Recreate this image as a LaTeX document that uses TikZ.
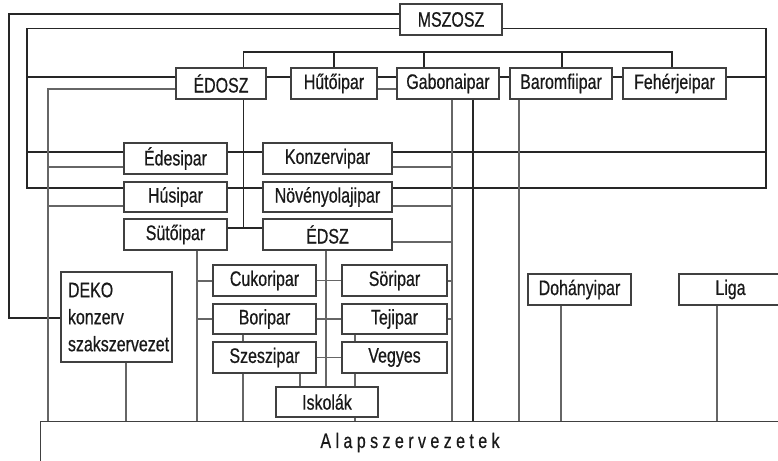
\documentclass[tikz,border=0pt]{standalone}
\usepackage{fontspec}
\setmainfont[FakeStretch=0.76, FakeBold=0.6]{Liberation Sans}
\usetikzlibrary{shapes,arrows}
\tikzstyle{unit} = [rectangle, draw=black!75, line width=1.1pt, inner sep=0pt,
    minimum width=103pt, minimum height=31pt, text=black!90,
    font=\fontsize{21}{27}\selectfont]
\tikzstyle{wire} = [draw, black!85, line width=1.2pt]
\tikzstyle{feed} = [draw, black!60, line width=1.2pt]

\begin{document}
\begin{tikzpicture}[x=1pt, y=-1pt]
    \useasboundingbox (0,0) rectangle (778,460);

    % Place nodes
    \node [unit, minimum width=102pt] (mszosz) at (451,19.5) {MSZOSZ};
    \node [unit, minimum width=90pt] (edosz) at (221,83.5) {ÉDOSZ};
    \node [unit, minimum width=86pt] (huto) at (334,83.5) {Hűtőipar};
    \node [unit, minimum width=102pt] (gabona) at (448,83.5) {Gabonaipar};
    \node [unit, minimum width=102pt] (baromfi) at (561,83.5) {Baromfiipar};
    \node [unit] (feherje) at (674.5,83.5) {Fehérjeipar};
    \node [unit] (edes) at (175.5,158.5) {Édesipar};
    \node [unit, minimum width=129pt] (konzerv) at (327.5,158.5) {Konzervipar};
    \node [unit, minimum height=30pt] (hus) at (175.5,197) {Húsipar};
    \node [unit, minimum width=129pt, minimum height=30pt] (olaj) at (327.5,197) {Növényolajipar};
    \node [unit] (suto) at (175.5,234.5) {Sütőipar};
    \node [unit, minimum width=129pt] (edsz) at (327.5,234.5) {ÉDSZ};
    \node [unit] (cukor) at (264.5,280.5) {Cukoripar};
    \node [unit, minimum height=30pt] (bor) at (264.5,319) {Boripar};
    \node [unit] (szesz) at (264.5,357.5) {Szeszipar};
    \node [unit, minimum width=105pt] (sor) at (394.5,280.5) {Söripar};
    \node [unit, minimum width=105pt, minimum height=30pt] (tej) at (394.5,319) {Tejipar};
    \node [unit, minimum width=105pt] (vegyes) at (394.5,357.5) {Vegyes};
    \node [unit, minimum width=102pt, minimum height=30pt] (iskola) at (327,402) {Iskolák};
    \node [unit, minimum width=111pt, minimum height=90pt, text width=97pt, align=left]
        (deko) at (116.5,317) {DEKO\\konzerv\\szakszervezet};
    \node [unit] (dohany) at (579.5,289.5) {Dohányipar};
    \node [unit] (liga) at (730.5,289.5) {Liga};
    \node [unit, anchor=north west, minimum width=739pt, minimum height=42pt]
        (alap) at (40,421) {A l a p s z e r v e z e t e k};

    % Draw edges: MSZOSZ rails
    \path [wire] (mszosz.west |- 0,14) -| (9,318) -- (deko.west |- 0,318);
    \path [wire] (mszosz.west |- 0,28.5) -| (27,188) -- (hus.west |- 0,188);
    \path [wire] (mszosz.west |- 0,28.5) -| (27,152) -- (edes.west |- 0,152);
    \path [wire] (mszosz.west |- 0,28.5) -| (27,77) -- (edosz.west |- 0,77);
    \path [wire] (mszosz.east |- 0,28.5) -| (766,188) -- (olaj.east |- 0,188);
    \path [wire] (mszosz.east |- 0,28.5) -| (766,152) -- (konzerv.east |- 0,152);
    \path [wire] (mszosz.east |- 0,28.5) -| (766,77) -- (feherje.east |- 0,77);
    \foreach \a/\b in {edosz/huto, huto/gabona, gabona/baromfi, baromfi/feherje}
        \path [wire] (\a.east |- 0,77) -- (\b.west |- 0,77);
    \path [wire] (edes.east |- 0,152) -- (konzerv.west |- 0,152);
    \path [wire] (hus.east |- 0,188) -- (olaj.west |- 0,188);

    % ÉDOSZ
    \path [wire] (edosz.north -| 243.5,0) -- (243.5,52) -| (feherje.north -| 672,0);
    \foreach \n/\x in {huto/334, gabona/424, baromfi/562}
        \path [wire] (\n.north -| \x,0) -- (\x,52);
    \path [wire] (edosz.south -| 243.5,0) -- (243.5,228);
    \path [wire] (suto.east |- 0,228) -- (edsz.west |- 0,228);
    \path [feed] (edosz.west |- 0,89) -| (alap.north -| 48,0);
    \path [feed] (edosz.west |- 0,89) -| (48,167) -- (edes.west |- 0,167);
    \path [feed] (edosz.west |- 0,89) -| (48,206) -- (hus.west |- 0,206);
    \path [feed] (huto.east |- 0,89) -- (gabona.west |- 0,89);

    % Gabonaipar, Baromfiipar
    \path [feed] (gabona.south -| 452,0) -- (alap.north -| 452,0);
    \foreach \n/\y in {konzerv/167, olaj/206, edsz/242, sor/281, tej/319}
        \path [feed] (\n.east |- 0,\y) -| (gabona.south -| 452,0);
    \path [wire] (gabona.south -| 473,0) -- (alap.north -| 473,0);
    \path [feed] (baromfi.south -| 519,0) -- (alap.north -| 519,0);

    % lower units
    \path [feed] (suto.south -| 197,0) -- (alap.north -| 197,0);
    \path [feed] (suto.south -| 197,0) |- (cukor.west |- 0,281);
    \path [feed] (suto.south -| 197,0) |- (bor.west |- 0,319);
    \path [feed] (deko.south -| 126,0) -- (alap.north -| 126,0);
    \path [feed] (edsz.south -| 326,0) -- (iskola.north -| 326,0);
    \path [feed] (cukor.east) -- (sor.west);
    \path [feed] (bor.east) -- (tej.west);
    \path [feed] (szesz.east) -- (vegyes.west);
    \path [feed] (bor.south -| 243,0) -- (szesz.north -| 243,0);
    \path [feed] (szesz.south -| 243,0) -- (alap.north -| 243,0);
    \path [feed] (szesz.south -| 300,0) -- (iskola.north -| 300,0);
    \path [feed] (tej.south -| 355,0) -- (vegyes.north -| 355,0);
    \path [feed] (vegyes.south -| 355,0) -- (iskola.north -| 355,0);
    \path [feed] (iskola.south -| 355,0) -- (alap.north -| 355,0);
    \path [feed] (dohany.south -| 561,0) -- (alap.north -| 561,0);
    \path [feed] (liga.south -| 717,0) -- (alap.north -| 717,0);

\end{tikzpicture}
\end{document}
